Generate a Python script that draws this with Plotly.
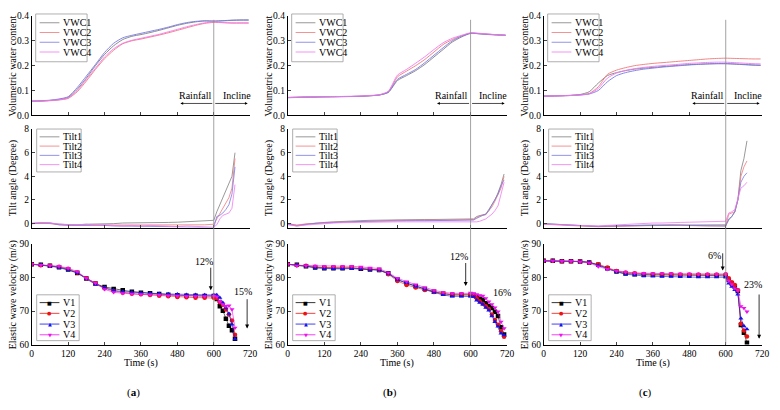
import plotly.graph_objects as go

# The page body has an 8 px margin, so the figure is sized / positioned to land
# where the reference shows it inside the 780x410 window.
OFF = 8
W, H = 780 - OFF, 410 - OFF
FONT = "Liberation Serif"

# ---------------- data ----------------
t_vwc = [0, 30, 60, 90, 120, 150, 180, 210, 240, 270, 300, 330, 360, 390, 420,
         450, 480, 510, 540, 570, 600, 630, 660, 690, 715]

vwc1_a = [.057, .058, .060, .064, .072, .105, .150, .200, .245, .280, .305, .318, .325, .333, .342, .352, .362, .370, .376, .380, .380, .381, .383, .384, .384]
vwc2_a = [.056, .057, .059, .062, .068, .095, .138, .185, .228, .262, .288, .300, .307, .315, .323, .332, .342, .352, .362, .370, .374, .373, .372, .372, .372]
vwc3_a = [.058, .059, .061, .066, .075, .112, .158, .205, .253, .290, .312, .322, .330, .338, .346, .355, .365, .373, .378, .380, .378, .380, .382, .383, .383]
vwc4_a = [.057, .058, .060, .063, .070, .100, .145, .190, .235, .268, .290, .302, .310, .318, .326, .336, .346, .356, .365, .372, .376, .373, .371, .371, .371]

vwc1_b = [.072, .073, .074, .074, .075, .075, .076, .076, .077, .079, .082, .092, .140, .160, .180, .205, .235, .265, .295, .315, .330, .328, .325, .323, .322]
vwc2_b = [.072, .073, .074, .074, .075, .075, .076, .076, .077, .079, .082, .095, .155, .178, .200, .225, .255, .285, .305, .320, .331, .329, .326, .324, .322]
vwc3_b = [.071, .072, .073, .074, .074, .075, .075, .076, .077, .079, .082, .093, .145, .165, .185, .212, .242, .272, .300, .318, .330, .328, .326, .324, .323]
vwc4_b = [.072, .073, .074, .075, .075, .076, .076, .077, .078, .080, .083, .097, .162, .185, .210, .236, .265, .292, .310, .322, .332, .330, .327, .324, .322]

vwc1_c = [.078, .078, .079, .081, .084, .095, .130, .160, .172, .180, .186, .190, .193, .196, .199, .202, .204, .206, .207, .208, .208, .206, .204, .202, .201]
vwc2_c = [.077, .078, .079, .080, .083, .088, .115, .165, .182, .192, .200, .205, .209, .212, .215, .218, .221, .224, .227, .229, .230, .229, .228, .227, .227]
vwc3_c = [.077, .078, .079, .080, .082, .086, .100, .135, .160, .172, .180, .186, .190, .194, .197, .200, .203, .205, .207, .208, .208, .207, .205, .203, .202]
vwc4_c = [.077, .078, .079, .080, .082, .087, .108, .150, .170, .181, .188, .193, .197, .200, .203, .206, .209, .211, .213, .214, .214, .212, .210, .208, .207]

# time axes for tilt / velocity (30 s steps, then 10 s steps after 600 s)
t_a = [0, 30, 60, 90, 120, 150, 180, 210, 240, 270, 300, 330, 360, 390, 420, 450, 480, 510, 540, 570, 600,
       610, 620, 630, 640, 650, 660, 670]
t_b = [0, 30, 60, 90, 120, 150, 180, 210, 240, 270, 300, 330, 360, 390, 420, 450, 480, 510, 540, 570, 600,
       610, 620, 630, 640, 650, 660, 670, 680, 690, 700, 710]
t_c = [0, 30, 60, 90, 120, 150, 180, 210, 240, 270, 300, 330, 360, 390, 420, 450, 480, 510, 540, 570, 600,
       610, 620, 630, 640, 650, 660, 670]

tilt1_a = [0.0, 0.05, 0.05, -0.05, -0.1, -0.1, -0.05, -0.05, 0.0, 0.0, 0.05, 0.05, 0.05, 0.08, 0.1, 0.1, 0.12, 0.15, 0.18, 0.22, 0.28,
           1.0, 1.6, 2.2, 2.8, 3.5, 4.0, 6.0]
tilt2_a = [0.0, 0.05, 0.0, -0.1, -0.12, -0.1, -0.1, -0.1, -0.12, -0.12, -0.1, -0.1, -0.1, -0.1, -0.08, -0.1, -0.1, -0.12, -0.12, -0.1, -0.05,
           0.4, 0.8, 1.3, 1.7, 2.2, 3.0, 5.5]
tilt3_a = [0.0, 0.08, 0.05, -0.1, -0.15, -0.15, -0.15, -0.12, -0.15, -0.2, -0.2, -0.2, -0.22, -0.22, -0.25, -0.25, -0.28, -0.3, -0.3, -0.3, -0.35,
           0.6, 0.7, 0.9, 1.2, 1.6, 2.5, 4.8]
tilt4_a = [0.05, 0.1, 0.05, -0.05, -0.1, -0.1, -0.05, -0.15, -0.1, -0.15, -0.2, -0.15, -0.2, -0.15, -0.2, -0.2, -0.25, -0.2, -0.25, -0.25, -0.3,
           -0.1, 0.4, 0.7, 0.8, 0.9, 1.3, 3.3]

tilt1_b = [0.0, -0.15, -0.05, 0.05, 0.1, 0.15, 0.2, 0.22, 0.25, 0.28, 0.3, 0.3, 0.3, 0.32, 0.35, 0.35, 0.35, 0.35, 0.35, 0.35, 0.35,
           0.4, 0.6, 0.7, 0.75, 0.8, 1.2, 1.6, 2.0, 2.6, 3.3, 4.2]
tilt2_b = [0.0, -0.12, -0.02, 0.05, 0.08, 0.12, 0.15, 0.18, 0.2, 0.22, 0.25, 0.25, 0.28, 0.28, 0.3, 0.3, 0.3, 0.28, 0.3, 0.3, 0.3,
           0.35, 0.5, 0.65, 0.7, 0.75, 1.1, 1.4, 1.9, 2.4, 3.0, 4.0]
tilt3_b = [-0.05, -0.2, -0.08, 0.02, 0.05, 0.1, 0.12, 0.15, 0.18, 0.2, 0.2, 0.22, 0.22, 0.25, 0.25, 0.25, 0.25, 0.25, 0.25, 0.25, 0.25,
           0.3, 0.45, 0.6, 0.7, 0.8, 1.1, 1.6, 2.1, 2.5, 3.2, 3.7]
tilt4_b = [-0.1, -0.2, -0.12, -0.05, 0.0, 0.05, 0.08, 0.1, 0.1, 0.12, 0.12, 0.12, 0.15, 0.15, 0.15, 0.15, 0.15, 0.12, 0.12, 0.12, 0.12,
           0.12, 0.15, 0.2, 0.3, 0.4, 0.6, 0.8, 1.1, 1.5, 2.5, 3.5]

tilt1_c = [0.0, -0.05, -0.1, -0.12, -0.15, -0.2, -0.25, -0.2, -0.2, -0.15, -0.15, -0.12, -0.1, -0.1, -0.1, -0.12, -0.12, -0.1, -0.1, -0.1, -0.1,
           0.4, 0.6, 1.0, 2.0, 4.5, 5.5, 7.0]
tilt2_c = [-0.05, -0.1, -0.1, -0.15, -0.2, -0.22, -0.28, -0.25, -0.25, -0.22, -0.2, -0.18, -0.15, -0.15, -0.15, -0.15, -0.18, -0.18, -0.2, -0.2, -0.2,
           0.8, 0.9, 1.0, 2.0, 4.0, 4.8, 5.3]
tilt3_c = [0.0, -0.05, -0.08, -0.12, -0.15, -0.2, -0.22, -0.2, -0.2, -0.2, -0.18, -0.18, -0.15, -0.15, -0.12, -0.12, -0.15, -0.15, -0.15, -0.2, -0.2,
           0.3, 0.6, 1.0, 2.0, 3.5, 4.0, 4.3]
tilt4_c = [-0.05, -0.08, -0.1, -0.15, -0.2, -0.2, -0.2, -0.15, -0.1, -0.05, -0.05, 0.0, 0.05, 0.05, 0.1, 0.1, 0.12, 0.15, 0.18, 0.2, 0.2,
           0.9, 1.0, 1.2, 2.2, 3.0, 3.2, 3.5]

v1_a = [84.0, 83.8, 83.5, 83.1, 82.4, 81.4, 79.7, 78.2, 77.2, 76.6, 76.2, 75.8, 75.5, 75.3, 75.1, 74.9, 74.7, 74.6, 74.6, 74.5, 74.5,
        73.6, 71.4, 70.1, 67.7, 65.6, 64.3, 61.7]
v2_a = [84.0, 83.7, 83.5, 83.2, 82.6, 81.5, 79.8, 78.3, 76.8, 76.0, 75.5, 75.2, 75.0, 74.8, 74.6, 74.4, 74.2, 74.1, 74.0, 74.0, 74.0,
        73.8, 72.6, 71.9, 70.5, 69.0, 67.2, 62.9]
v3_a = [84.0, 83.8, 83.4, 83.0, 82.3, 81.4, 79.6, 78.0, 77.0, 76.2, 75.8, 75.6, 75.4, 75.3, 75.2, 75.1, 75.0, 74.9, 74.9, 74.8, 74.8,
        74.8, 74.0, 72.5, 71.0, 69.2, 66.0, 61.6]
v4_a = [84.0, 83.7, 83.6, 83.4, 82.8, 81.8, 79.8, 78.4, 76.5, 75.6, 75.3, 75.1, 75.0, 74.9, 74.8, 74.6, 74.5, 74.4, 74.4, 74.4, 74.5,
        74.3, 72.8, 72.0, 71.5, 71.6, 70.5, 65.0]

v1_b = [84.0, 83.8, 83.4, 83.0, 82.8, 82.8, 82.8, 82.9, 82.6, 82.4, 82.3, 81.3, 79.4, 78.3, 77.4, 76.6, 75.8, 75.2, 74.8, 74.8, 74.8,
        74.8, 74.3, 73.7, 73.4, 72.3, 71.5, 70.9, 69.8, 68.5, 65.2, 63.0]
v2_b = [84.0, 83.7, 83.5, 83.2, 83.0, 83.0, 83.0, 83.0, 82.8, 82.5, 82.3, 81.0, 79.0, 77.8, 77.0, 76.3, 75.7, 75.2, 75.0, 75.0, 75.0,
        74.5, 73.8, 72.9, 72.2, 71.4, 70.6, 69.0, 67.3, 65.9, 64.0, 62.3]
v3_b = [84.0, 83.8, 83.4, 82.9, 82.7, 82.6, 82.6, 82.7, 82.5, 82.3, 82.2, 81.2, 79.4, 78.4, 77.4, 76.5, 75.6, 74.8, 74.4, 74.4, 74.4,
        74.3, 73.2, 72.5, 72.0, 71.0, 70.2, 68.5, 66.8, 65.4, 63.3, 62.8]
v4_b = [84.0, 83.5, 83.6, 83.5, 83.4, 83.4, 83.4, 83.4, 83.2, 82.9, 82.7, 81.5, 79.8, 78.8, 77.9, 77.0, 76.2, 75.6, 75.3, 75.3, 75.4,
        75.3, 75.0, 74.7, 74.5, 73.8, 72.8, 72.0, 71.0, 69.8, 66.8, 64.8]

v1_c = [85.0, 85.0, 84.9, 84.9, 84.8, 84.5, 83.8, 82.8, 81.8, 81.2, 81.0, 80.8, 80.8, 80.8, 80.8, 80.7, 80.7, 80.6, 80.6, 80.6, 80.5,
        79.3, 78.2, 77.3, 76.0, 65.8, 63.5, 60.5]
v2_c = [85.0, 85.0, 84.9, 84.9, 84.8, 84.5, 84.0, 83.0, 82.0, 81.5, 81.3, 81.1, 81.0, 81.0, 81.0, 80.9, 80.9, 80.9, 80.9, 80.9, 81.0,
        79.8, 78.6, 77.8, 76.2, 66.2, 64.2, 62.4]
v3_c = [85.0, 85.0, 84.9, 84.9, 84.8, 84.6, 83.6, 82.5, 81.7, 81.0, 80.7, 80.5, 80.4, 80.3, 80.3, 80.2, 80.2, 80.1, 80.1, 80.1, 80.1,
        78.3, 77.3, 76.3, 75.0, 67.8, 65.5, 64.6]
v4_c = [85.0, 85.0, 84.9, 84.9, 84.7, 84.4, 83.3, 82.5, 82.0, 81.6, 81.4, 81.3, 81.2, 81.2, 81.2, 81.1, 81.1, 81.0, 81.0, 81.0, 81.0,
        79.0, 78.0, 76.8, 76.2, 71.4, 70.9, 69.8]

vwc_names = ["VWC1", "VWC2", "VWC3", "VWC4"]
tilt_names = ["Tilt1", "Tilt2", "Tilt3", "Tilt4"]
v_names = ["V1", "V2", "V3", "V4"]
x_ticks = [0, 120, 240, 360, 480, 600, 720]
panel_labels = ["a", "b", "c"]
drop_labels = [("12%", "15%"), ("12%", "16%"), ("6%", "23%")]

# ---------------- style ----------------
line_colors = ["#7f7f7f", "#f07878", "#7878e6", "#f078f0"]
v_colors = ["#000000", "#ee1111", "#1111ee", "#ee11ee"]
v_symbols = ["square", "circle", "triangle-up", "triangle-down"]
v_glyphs = ["\u25A0", "\u25CF", "\u25B2", "\u25BC"]

# positions measured in the reference window (pixels)
cols_L = [30, 289, 548]
cols_R = [251, 511, 769]
rows_TB = [(11, 113), (127, 228), (245, 348)]
y_ranges = [[0, 0.4], [-0.33, 8], [60, 90]]
y_ticks = [[0, 0.1, 0.2, 0.3, 0.4], [0, 2, 4, 6, 8], [60, 70, 80, 90]]
y_titles = ["Volumetric water content", "Tilt angle (Degree)", "Elastic wave velocity (m/s)"]


def px(x):
    return (x - OFF) / W


def py(y):
    return 1 - (y - OFF) / H


def ax_id(k):
    return "" if k == 1 else str(k)


def txt(s, size=10, family=FONT, color="black"):
    return dict(text=s, showarrow=False, xanchor="center", yanchor="middle",
                font=dict(family=family, size=size, color=color))


fig = go.Figure()

vwc_sets = [[vwc1_a, vwc2_a, vwc3_a, vwc4_a], [vwc1_b, vwc2_b, vwc3_b, vwc4_b], [vwc1_c, vwc2_c, vwc3_c, vwc4_c]]
tilt_sets = [[tilt1_a, tilt2_a, tilt3_a, tilt4_a], [tilt1_b, tilt2_b, tilt3_b, tilt4_b], [tilt1_c, tilt2_c, tilt3_c, tilt4_c]]
v_sets = [[v1_a, v2_a, v3_a, v4_a], [v1_b, v2_b, v3_b, v4_b], [v1_c, v2_c, v3_c, v4_c]]
t_sets = [t_a, t_b, t_c]

layout_axes = {}
shapes = []
annotations = []
tick_font = dict(family=FONT, size=9.5, color="black")

for c in range(3):
    for r in range(3):
        k = r * 3 + c + 1
        sid = ax_id(k)
        top, bot = rows_TB[r]
        layout_axes["xaxis" + sid] = dict(
            domain=[px(cols_L[c]), px(cols_R[c])], range=[0, 720], anchor="y" + sid,
            tickvals=x_ticks, showticklabels=(r == 2), ticks="inside", ticklen=3,
            tickwidth=0.8, showline=True, linecolor="black", linewidth=0.8,
            showgrid=False, zeroline=False, tickfont=tick_font,
        )
        layout_axes["yaxis" + sid] = dict(
            domain=[py(bot), py(top)], range=y_ranges[r], anchor="x" + sid,
            tickvals=y_ticks[r], tickformat=".1f" if r == 0 else "d",
            ticks="inside", ticklen=3, tickwidth=0.8, showline=True,
            linecolor="black", linewidth=0.8, showgrid=False, zeroline=False,
            tickfont=tick_font,
        )
        a = txt(y_titles[r])
        a.update(xref="paper", yref="paper", x=px(cols_L[c] - 19), y=py((top + bot) / 2), textangle=-90)
        annotations.append(a)

    kx = ["x" + ax_id(r * 3 + c + 1) for r in range(3)]
    ky = ["y" + ax_id(r * 3 + c + 1) for r in range(3)]
    for i in range(4):
        fig.add_trace(go.Scatter(
            x=t_vwc, y=vwc_sets[c][i], mode="lines", name=vwc_names[i],
            line=dict(color=line_colors[i], width=0.9, shape="spline", smoothing=0.6),
            xaxis=kx[0], yaxis=ky[0], showlegend=False))
    for i in range(4):
        fig.add_trace(go.Scatter(
            x=t_sets[c], y=tilt_sets[c][i], mode="lines", name=tilt_names[i],
            line=dict(color=line_colors[i], width=0.8),
            xaxis=kx[1], yaxis=ky[1], showlegend=False))
    for i in range(4):
        fig.add_trace(go.Scatter(
            x=t_sets[c], y=v_sets[c][i], mode="lines+markers", name=v_names[i],
            line=dict(color=v_colors[i], width=0.6),
            marker=dict(symbol=v_symbols[i], size=4.5, color=v_colors[i], line=dict(width=0)),
            xaxis=kx[2], yaxis=ky[2], showlegend=False, cliponaxis=True))

    L = cols_L[c]
    # vertical line at 600 s across the column
    shapes.append(dict(type="line", xref=kx[0], yref="paper", x0=600, x1=600,
                       y0=py(348), y1=py(15), line=dict(color="#8c8c8c", width=0.8)))

    # Rainfall / Incline arrows
    for head in (490, 712):
        annotations.append(dict(x=head, y=0.048, ax=600, ay=0.048, xref=kx[0], yref=ky[0],
                                axref=kx[0], ayref=ky[0], showarrow=True, arrowhead=2,
                                arrowsize=0.8, arrowwidth=0.7, arrowcolor="black", text=""))
    for xv, s in ((537, "Rainfall"), (675, "Incline")):
        a = txt(s)
        a.update(x=xv, y=0.078, xref=kx[0], yref=ky[0])
        annotations.append(a)

    # drop arrows in velocity panel
    d1, d2 = drop_labels[c]
    if c == 0:
        a1 = (590, 83.4, 76.2, 567, 84.9)
        a2 = (710, 74.0, 64.8, 697, 75.8)
    elif c == 1:
        a1 = (584, 84.8, 77.5, 561, 86.2)
        a2 = (726, 74.0, 64.6, 704, 75.6)
    else:
        a1 = (590, 87.7, 82.1, 564, 86.6)
        a2 = (710, 75.4, 61.7, 691, 77.9)
    for (xa, y_tail, y_head, xt, yt), lab in ((a1, d1), (a2, d2)):
        annotations.append(dict(x=xa, y=y_head, ax=xa, ay=y_tail, xref=kx[2], yref=ky[2],
                                axref=kx[2], ayref=ky[2], showarrow=True, arrowhead=2,
                                arrowsize=1.0, arrowwidth=0.8, arrowcolor="black", text=""))
        a = txt(lab)
        a.update(x=xt, y=yt, xref=kx[2], yref=ky[2])
        annotations.append(a)

    # x title and panel label
    a = txt("Time (s)")
    a.update(x=px((cols_L[c] + cols_R[c]) / 2), y=py(367), xref="paper", yref="paper")
    annotations.append(a)
    a = txt("(<b>%s</b>)" % panel_labels[c], size=11)
    a.update(x=px((cols_L[c] + cols_R[c]) / 2 - 8), y=py(397), xref="paper", yref="paper")
    annotations.append(a)

    # ---- legend boxes ----
    legend_specs = [
        (vwc_names, (L + 4, L + 56, 9, 58), [18, 28, 38, 48], False),
        (tilt_names, (L + 5, L + 50, 127, 171), [135, 144.5, 154, 163.5], False),
        (v_names, (L + 5, L + 48, 297, 344), [305, 316, 327, 338], True),
    ]
    for names, (x0, x1, y0, y1), ys, with_marker in legend_specs:
        shapes.append(dict(type="rect", xref="paper", yref="paper", x0=px(x0), x1=px(x1),
                           y0=py(y1), y1=py(y0), line=dict(color="#9a9a9a", width=0.8),
                           fillcolor="white", layer="above"))
        for i, nm in enumerate(names):
            col = v_colors[i] if with_marker else line_colors[i]
            shapes.append(dict(type="line", xref="paper", yref="paper", x0=px(L + 8), x1=px(L + 28),
                               y0=py(ys[i]), y1=py(ys[i]), line=dict(color=col, width=0.8),
                               layer="above"))
            if with_marker:
                a = txt(v_glyphs[i], size=5, family="DejaVu Sans", color=col)
                a.update(x=px(L + 18), y=py(ys[i]), xref="paper", yref="paper")
                annotations.append(a)
            a = txt(nm)
            a.update(x=px(L + 30), y=py(ys[i]), xref="paper", yref="paper", xanchor="left")
            annotations.append(a)

fig.update_layout(
    width=W, height=H, margin=dict(l=0, r=0, t=0, b=0),
    paper_bgcolor="white", plot_bgcolor="white",
    font=dict(family=FONT, size=10, color="black"),
    showlegend=False, shapes=shapes, annotations=annotations,
    **layout_axes,
)

fig.write_html("out.html")
